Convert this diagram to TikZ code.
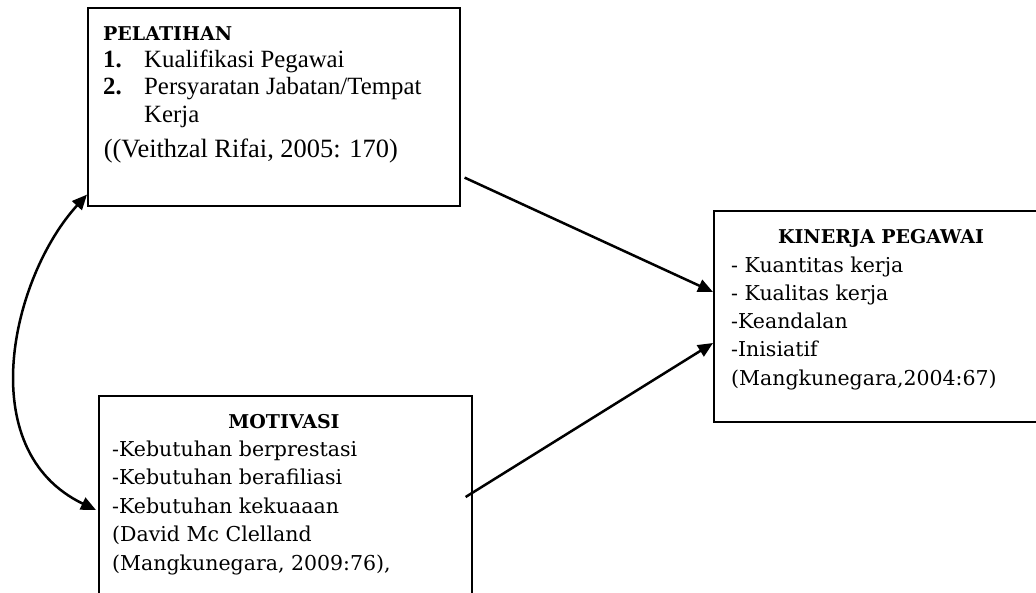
\documentclass[tikz,border=0pt]{standalone}
\usepackage{fontspec}
\setmainfont{Liberation Serif}
\newfontfamily\cambfont{DejaVu Serif}
\usetikzlibrary{arrows.meta,positioning}

\begin{document}
\begin{tikzpicture}[x=1pt, y=-1pt,
  box/.style={rectangle, draw=black, line width=1.6pt, anchor=north west, inner sep=0pt},
  body/.style={anchor=base west, inner sep=0pt, align=left},
  head/.style={anchor=base, inner sep=0pt, font=\cambfont\bfseries\fontsize{19}{23}\selectfont},
  line/.style={-{Triangle[length=15pt,width=13pt]}, line width=2.5pt},
  both/.style={{Triangle[length=15pt,width=13pt]}-{Triangle[length=15pt,width=13pt]}, line width=2.5pt}]
\clip (0,0) rectangle (1036,592);

% boxes
\node[box, minimum width=372pt, minimum height=198pt] (pel) at (87,7) {};
\node[box, minimum width=373pt, minimum height=240pt] (mot) at (98,395) {};
\node[box, minimum width=336pt, minimum height=211pt] (kin) at (713,210) {};

% texts (multi-line nodes sit on the baseline of their last line)
\node[head, anchor=base west] (pelhead) at (103,40) {PELATIHAN};
\node[body, font=\fontsize{24.8}{27.5}\selectfont] (pellist) at (103,122)
  {\makebox[41pt][l]{\textbf{1.}}Kualifikasi Pegawai\\
   \makebox[41pt][l]{\textbf{2.}}Persyaratan Jabatan/Tempat\\
   \hspace*{41pt}Kerja};
\node[body, font=\fontsize{26.4}{30}\selectfont] (pelref) at (97,157) {\ ((Veithzal Rifai, 2005: 170)};

\node[head] (mothead) at (284,428) {MOTIVASI};
\node[body, font=\cambfont\fontsize{20.5}{28.4}\selectfont] (motlist) at (112,570)
  {-Kebutuhan berprestasi\\
   -Kebutuhan berafiliasi\\
   -Kebutuhan kekuaaan\\
   (David Mc Clelland\\
   (Mangkunegara, 2009:76),};

\node[head] (kinhead) at (881,243) {KINERJA PEGAWAI};
\node[body, font=\cambfont\fontsize{20.5}{28.25}\selectfont] (kinlist) at (731,385)
  {- Kuantitas kerja\\
   - Kualitas kerja\\
   -Keandalan\\
   -Inisiatif\\
   (Mangkunegara,2004:67)};

% connectors
\coordinate (pelout) at ([shift={(4,-29)}]pel.south east);
\coordinate (motout) at ([shift={(-7,102)}]mot.north east);
\coordinate (pelin) at ([shift={(0,-12)}]pel.south west);
\coordinate (motin) at ([shift={(-2,115)}]mot.north west);

\draw[line] (pelout) -- (kin.north west |- 0,292);
\draw[line] (motout) -- (kin.north west |- 0,343);
\draw[both] (pelin) .. controls +(-75,82) and +(-125,-60) .. (motin);
\end{tikzpicture}
\end{document}
